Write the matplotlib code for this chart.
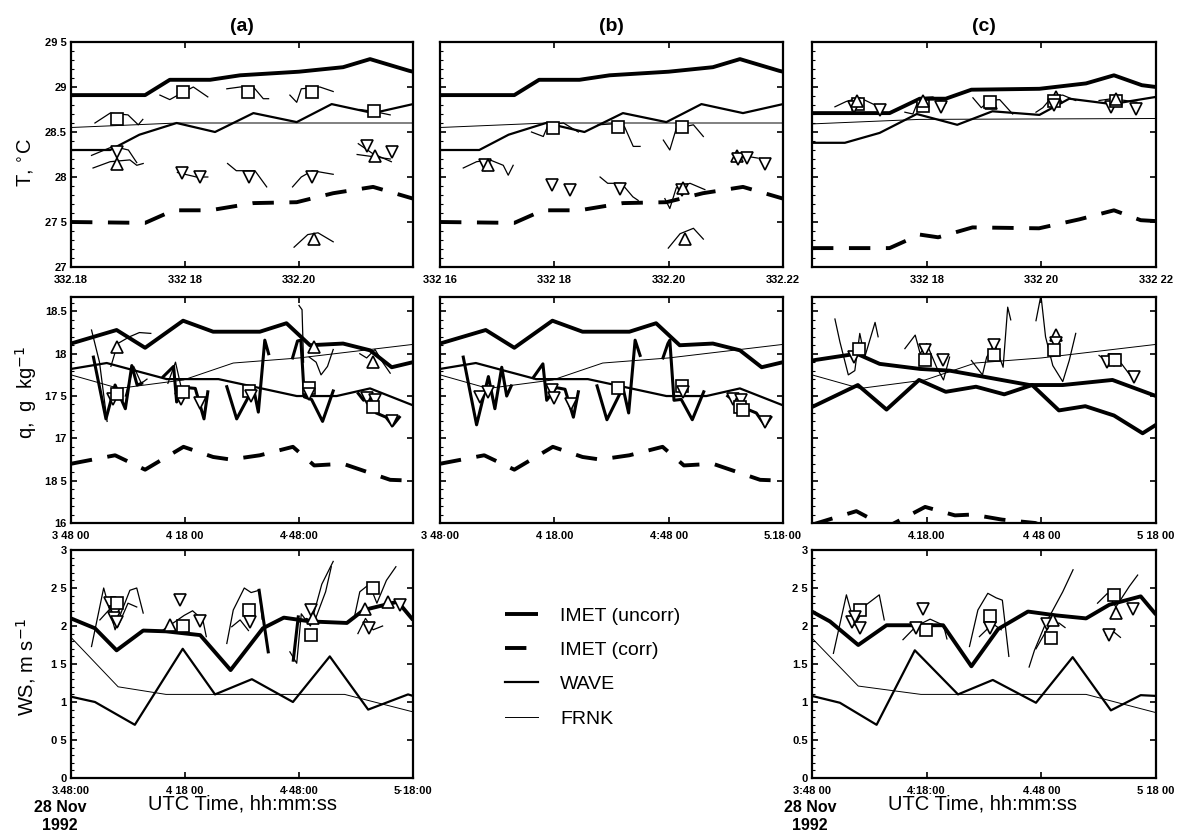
import matplotlib.pyplot as plt
from matplotlib.lines import Line2D
from matplotlib.ticker import MultipleLocator

plt.rcParams['font.family'] = ['Liberation Sans', 'DejaVu Sans']

# x axis: minutes after 03:48:00 UTC, 28 Nov 1992 (332.16 - 332.22 day of year)
X_TICKS = [0, 30, 60, 90]

# ---------------- temperature, panels (a) and (b)
T_IMET_T = [0, 19.5, 26, 36.6, 44.5, 60, 71.6, 78.7, 89, 90]
T_IMET_UNC = [28.91, 28.91, 29.08, 29.08, 29.13, 29.17, 29.22, 29.31, 29.18, 29.17]
T_COR_T = [0, 19.5, 27, 36.6, 48, 59.4, 69, 79.5, 90]
T_IMET_COR = [27.5, 27.49, 27.63, 27.63, 27.71, 27.72, 27.82, 27.89, 27.76]
T_WAVE_T = [0, 10.3, 18, 27.8, 37.9, 48, 59.4, 68.6, 79.5, 90]
T_WAVE = [28.3, 28.3, 28.47, 28.6, 28.5, 28.71, 28.61, 28.81, 28.71, 28.81]
T_FRNK_T = [0, 28, 90]
T_FRNK = [28.55, 28.6, 28.6]

# temperature, panel (c)
TC_IMET_T = [0, 20.3, 28.2, 35, 41.7, 59.5, 71.7, 79, 86.3, 90]
TC_IMET_UNC = [28.71, 28.71, 28.87, 28.87, 28.97, 28.98, 29.04, 29.13, 29.02, 29.0]
TC_COR_T = [0, 20.3, 28.2, 33, 42, 59.4, 70, 79, 86, 90]
TC_IMET_COR = [27.21, 27.21, 27.36, 27.33, 27.44, 27.43, 27.53, 27.63, 27.52, 27.51]
TC_WAVE_T = [0, 8.6, 17.7, 27.4, 38, 47.2, 59.5, 67.3, 78.5, 90]
TC_WAVE = [28.38, 28.38, 28.49, 28.7, 28.58, 28.73, 28.69, 28.87, 28.81, 28.89]
TC_FRNK_T = [0, 28, 90]
TC_FRNK = [28.59, 28.64, 28.65]

# ---------------- humidity, panels (a) and (b)
Q_IMET_T = [0, 12, 19.5, 29.5, 37.4, 49.7, 56.7, 62.9, 71.6, 78.7, 84.4, 90]
Q_IMET_UNC = [18.12, 18.28, 18.07, 18.39, 18.26, 18.26, 18.36, 18.1, 18.12, 18.04, 17.84, 17.9]
Q_COR_T = [0, 11.6, 19.5, 29.6, 37.4, 42, 49.7, 58.4, 64, 71.6, 84, 90]
Q_IMET_COR = [16.7, 16.8, 16.63, 16.9, 16.78, 16.75, 16.8, 16.9, 16.68, 16.7, 16.51, 16.5]
Q_WAVE_T = [0, 9.4, 25.2, 38.8, 59.4, 69.9, 78.7, 90]
Q_WAVE = [17.82, 17.89, 17.7, 17.7, 17.5, 17.5, 17.59, 17.39]
Q_FRNK_T = [0, 12.6, 29.6, 42.7, 60, 90]
Q_FRNK = [17.75, 17.59, 17.69, 17.89, 17.95, 18.11]

# humidity, panel (c)
QC_IMET_T = [0, 12, 19.5, 28, 35, 42.9, 50.3, 57.6, 64.6, 71.5, 79, 86.5, 90]
QC_IMET_UNC = [17.37, 17.63, 17.34, 17.69, 17.55, 17.61, 17.52, 17.63, 17.33, 17.38, 17.27, 17.06, 17.16]
QC_IMET_COR = [15.98, 16.14, 15.95, 16.19, 16.09, 16.1, 16.04, 16.0, 15.9, 15.92, 15.75, 15.74]
QC_WAVE_T = [0, 11.7, 17.7, 28.3, 36, 44.7, 56.9, 65.6, 78.6, 90]
QC_WAVE = [17.92, 18.0, 17.88, 17.82, 17.8, 17.73, 17.63, 17.63, 17.69, 17.5]

# ---------------- wind speed, panel (a)
W_IMET_T = [0, 6.3, 12, 19, 25, 34, 42, 50.5, 56, 63, 72.6, 77, 86, 90]
W_IMET_UNC = [2.1, 1.97, 1.68, 1.94, 1.93, 1.88, 1.42, 1.97, 2.11, 2.06, 2.04, 2.21, 2.32, 2.08]
W_WAVE_T = [0, 6.3, 16.8, 29.4, 37.9, 47.6, 58.4, 68.1, 78.2, 88.7, 90]
W_WAVE = [1.07, 1.0, 0.7, 1.7, 1.1, 1.3, 1.0, 1.6, 0.9, 1.1, 1.08]
W_FRNK_T = [0, 12.4, 25, 72, 90]
W_FRNK = [1.85, 1.2, 1.1, 1.1, 0.87]

# wind speed, panel (c)
WC_IMET_T = [0, 4.7, 12.1, 19.5, 34.3, 41.7, 48.7, 56.5, 63.8, 71.7, 77.8, 86, 90]
WC_IMET_UNC = [2.19, 2.06, 1.75, 2.01, 2.01, 1.47, 1.96, 2.19, 2.14, 2.1, 2.28, 2.39, 2.15]
WC_WAVE_T = [0, 7.3, 16.9, 26.9, 38.2, 47.3, 58.6, 68.2, 78.2, 86, 90]
WC_WAVE = [1.08, 0.99, 0.7, 1.68, 1.1, 1.29, 0.99, 1.59, 0.89, 1.09, 1.08]
WC_FRNK_T = [0, 12.1, 28.5, 71.7, 90]
WC_FRNK = [1.84, 1.21, 1.1, 1.1, 0.86]

# ---------------- short ship/buoy records (thin traces) and their means (symbols)
T_A_TRACKS = [
    ([6.3, 10.3, 15, 17.7, 18.9], [28.6, 28.71, 28.69, 28.58, 28.64]),
    ([5.4, 11.1, 15.1, 17.3], [28.24, 28.34, 28.3, 28.16]),
    ([5.8, 10.3, 15.5, 17.3, 19], [28.1, 28.17, 28.19, 28.13, 28.15]),
    ([23.4, 26, 29, 32.2, 36], [28.91, 28.86, 28.93, 29.0, 28.89]),
    ([28, 30, 33, 36], [28.05, 28.03, 28.0, 28.0]),
    ([41, 44.5, 48, 50.6, 52], [28.98, 29.0, 29.0, 28.87, 28.87]),
    ([41.2, 43.5, 48.4, 51.5], [28.15, 28.07, 28.07, 27.89]),
    ([57.6, 59.4, 60.6, 65.5, 69], [28.91, 28.83, 28.98, 29.0, 28.95]),
    ([58.3, 60.6, 63.5, 69], [27.89, 28.0, 28.07, 28.03]),
    ([58.7, 62.3, 65, 69], [27.22, 27.36, 27.38, 27.28]),
    ([76, 79.5, 84], [28.75, 28.73, 28.69]),
    ([75.6, 79.4, 84.3], [28.37, 28.26, 28.17]),
    ([75.3, 84], [28.25, 28.2]),
]
T_A_MARKS = [('s', 12.1, 28.65), ('v', 12, 28.28), ('^', 12.2, 28.15), ('s', 29.6, 28.94),
             ('v', 29.1, 28.04), ('v', 34, 28.0), ('s', 46.7, 28.94), ('v', 46.8, 28.0),
             ('s', 63.3, 28.94), ('v', 63.5, 28.0), ('^', 63.9, 27.31), ('s', 79.7, 28.73),
             ('v', 77.8, 28.34), ('v', 84.4, 28.28), ('^', 80, 28.23)]

T_B_TRACKS = [
    ([6.1, 9.6, 13.1, 16.6, 17.9, 19.2], [28.1, 28.17, 28.19, 28.13, 28.02, 28.13]),
    ([24, 27.1, 28.4, 32.4, 36.3], [28.5, 28.45, 28.58, 28.6, 28.5]),
    ([41.5, 45.2, 48.4, 50.7, 52.5], [28.58, 28.59, 28.56, 28.34, 28.34]),
    ([58.6, 60.3, 62, 66.5, 69.1], [28.41, 28.3, 28.54, 28.58, 28.45]),
    ([42, 44, 47.6, 50.6, 52], [28.0, 27.93, 27.93, 27.78, 27.74]),
    ([59, 60.3, 62, 65.6, 69.5], [27.76, 27.65, 27.88, 27.93, 27.86]),
    ([59.9, 63, 66.5, 69.1], [27.21, 27.37, 27.43, 27.31]),
    ([76.7, 78.5, 80.5, 83.4], [28.25, 28.2, 28.23, 28.21]),
]
T_B_MARKS = [('v', 11.8, 28.13), ('^', 12.6, 28.13), ('s', 29.7, 28.54), ('s', 46.8, 28.56),
             ('s', 63.4, 28.56), ('v', 29.3, 27.91), ('v', 34.1, 27.86), ('v', 47.2, 27.87),
             ('v', 63.4, 27.86), ('^', 63.8, 27.88), ('^', 64.3, 27.31), ('^', 77.9, 28.23),
             ('v', 78.3, 28.2), ('v', 80.5, 28.21), ('v', 85.3, 28.15)]

T_C_TRACKS = [
    ([6, 9, 12.5, 16, 18.6], [28.78, 28.84, 28.88, 28.81, 28.78]),
    ([24.3, 26.4, 28.1, 31.6, 35.1], [28.72, 28.7, 28.88, 28.89, 28.82]),
    ([42.1, 44.3, 46.5, 49.1, 52.5], [28.88, 28.77, 28.85, 28.86, 28.7]),
    ([58.6, 60.4, 63, 65.6, 69], [28.72, 28.77, 28.9, 28.91, 28.85]),
    ([75.1, 78.5, 82, 85], [28.85, 28.87, 28.85, 28.83]),
]
T_C_MARKS = [('s', 12.1, 28.81), ('v', 10.9, 28.78), ('v', 17.7, 28.75), ('^', 11.9, 28.85),
             ('s', 29.1, 28.79), ('v', 33.8, 28.78), ('^', 29.1, 28.85), ('^', 46.9, 28.82),
             ('s', 46.5, 28.83), ('^', 63.8, 28.89), ('s', 63.4, 28.84), ('v', 63.4, 28.8),
             ('v', 78.2, 28.78), ('v', 84.7, 28.76), ('s', 79.5, 28.85), ('^', 79.5, 28.87)]

Q_A_THICK = [
    ([5.9, 9.2, 11.6, 14.3, 16, 17.4, 18.6], [17.96, 17.23, 17.63, 17.35, 17.86, 17.63, 17.65]),
    ([24.3, 27, 27.8, 30.4, 32.7, 35, 36], [17.73, 17.85, 17.43, 17.6, 17.59, 17.23, 17.55]),
    ([41, 43.6, 48, 49.3, 51, 52], [17.61, 17.23, 17.6, 17.31, 18.16, 18.0]),
    ([58.3, 59.6, 60.5, 61.4, 63.3, 66.2, 69], [17.95, 18.15, 18.16, 17.49, 17.46, 17.2, 17.56]),
    ([75.6, 77, 78.6, 80.3, 82.9, 84.6, 86.4], [17.53, 17.45, 17.5, 17.3, 17.25, 17.15, 17.25]),
]
Q_A_TRACKS = [
    ([5.4, 7.5, 9.5], [18.28, 17.9, 17.2]),
    ([10.5, 12.3, 15.4, 18, 21], [17.85, 18.12, 18.2, 18.25, 18.24]),
    ([14.3, 16.5, 18.5, 20], [17.5, 17.85, 17.65, 17.7]),
    ([25.5, 27.5, 29], [17.65, 17.9, 17.6]),
    ([60, 60.8, 61.2], [18.57, 18.52, 17.9]),
    ([62.7, 64.5, 65.8, 67.5, 69], [17.96, 17.9, 17.75, 17.85, 18.05]),
    ([76, 77.8, 80, 82, 84], [18.0, 17.95, 18.05, 17.9, 17.77]),
]
Q_A_MARKS = [('^', 12.2, 18.08), ('v', 11, 17.47), ('s', 12, 17.52), ('v', 29, 17.47),
             ('s', 29.6, 17.55), ('v', 34, 17.42), ('s', 46.8, 17.56), ('v', 47.3, 17.5),
             ('^', 64, 18.08), ('s', 62.7, 17.6), ('v', 62.7, 17.52), ('v', 77.8, 17.48),
             ('v', 79.9, 17.45), ('s', 79.5, 17.37), ('v', 84.6, 17.2), ('^', 79.5, 17.9)]

Q_B_THICK = [
    ([6.1, 9.6, 12.7, 14.4, 16.2, 17.5, 18.7], [17.96, 17.16, 17.73, 17.35, 17.84, 17.5, 17.62]),
    ([24.5, 27, 28, 30.5, 32.8, 35, 36.3], [17.72, 17.88, 17.45, 17.6, 17.58, 17.25, 17.55]),
    ([41.2, 43.8, 48, 49.5, 51.2, 52.5], [17.62, 17.22, 17.6, 17.3, 18.16, 17.98]),
    ([58.5, 59.8, 60.3, 61.4, 63.3, 66.2, 69.2], [17.95, 18.12, 18.16, 17.45, 17.46, 17.22, 17.55]),
    ([75.5, 77, 78.7, 80.3, 83, 85.3, 86.8], [17.5, 17.45, 17.5, 17.35, 17.3, 17.15, 17.25]),
]
Q_B_MARKS = [('v', 10.4, 17.49), ('v', 12.6, 17.55), ('v', 29.3, 17.57), ('v', 30, 17.48),
             ('v', 34.5, 17.41), ('s', 46.8, 17.59), ('s', 63.4, 17.62), ('v', 63.8, 17.55),
             ('v', 77, 17.47), ('v', 79, 17.45), ('s', 78.7, 17.37), ('s', 79.5, 17.33),
             ('v', 85.3, 17.19)]

Q_C_TRACKS = [
    ([6, 7.3, 9.5, 11.2, 12.5, 13.8, 16.5, 17.3], [18.41, 18.14, 17.75, 17.8, 18.24, 17.96, 18.37, 18.2]),
    ([24.3, 27, 28.3, 30, 32.6, 34.4, 36], [18.06, 18.22, 18.0, 18.12, 17.84, 17.69, 17.96]),
    ([41.7, 44.6, 45.7, 47.8, 50, 51.2, 52], [17.92, 17.75, 17.96, 18.12, 17.84, 18.55, 18.4]),
    ([58.6, 59.9, 61.1, 63, 65.6, 67.3, 69], [18.39, 18.69, 18.2, 17.86, 17.67, 17.92, 18.24]),
    ([75.1, 76.9, 79.4, 81, 83.5], [17.98, 17.92, 17.94, 17.88, 17.73]),
]
Q_C_MARKS = [('v', 11, 17.96), ('s', 12.2, 18.06), ('v', 29.6, 18.04), ('s', 29.6, 17.92),
             ('v', 34.4, 17.92), ('v', 47.6, 18.1), ('s', 47.6, 17.98), ('^', 63.8, 18.22),
             ('v', 63.8, 18.13), ('s', 63.4, 18.04), ('v', 77.3, 17.9), ('v', 79, 17.93),
             ('s', 79.4, 17.92), ('v', 84.3, 17.73)]

W_A_TRACKS = [
    ([5.4, 8.6, 11.6, 13.3, 15.5, 17.3, 19], [1.73, 2.5, 1.95, 2.19, 2.47, 2.5, 2.17]),
    ([7.6, 10.7, 12.3, 15, 17.3], [2.08, 2.25, 1.99, 2.3, 2.25]),
    ([24.3, 29.8, 32, 34.7, 35.6], [1.95, 2.14, 2.2, 2.08, 1.86]),
    ([41, 42.7, 45.6, 47.4, 49.5, 50.3], [1.77, 2.21, 2.5, 2.44, 2.47, 2.09]),
    ([42.3, 44.5, 46.7], [1.99, 2.08, 1.94]),
    ([57.6, 59.4, 60.6, 63, 66, 69], [1.66, 1.51, 2.16, 2.0, 2.55, 2.85]),
    ([60, 62, 64, 67, 68.5], [2.05, 2.1, 2.05, 2.45, 2.78]),
    ([74.5, 76, 78.5, 80.5, 83, 85.5], [2.1, 2.45, 2.55, 2.3, 2.6, 2.78]),
    ([75.5, 77.5, 79.5, 82], [1.9, 2.1, 1.95, 2.0]),
]
W_A_THICK = [
    ([49.5, 51.9], [2.47, 1.66]),
    ([58.5, 59.8], [1.55, 2.12]),
]
W_A_MARKS = [('v', 10.3, 2.3), ('v', 11.6, 2.19), ('s', 12.2, 2.3), ('v', 11.2, 2.1),
             ('v', 12.2, 2.05), ('v', 28.7, 2.34), ('^', 26, 2.01), ('s', 29.4, 2.0),
             ('v', 34, 2.06), ('s', 46.8, 2.21), ('v', 47, 2.05), ('v', 63.2, 2.21),
             ('^', 63.6, 2.1), ('s', 63.2, 1.88), ('s', 79.6, 2.5), ('^', 77.4, 2.23),
             ('v', 78.3, 1.97), ('^', 83.5, 2.32), ('v', 86.5, 2.28)]

W_C_TRACKS = [
    ([5.6, 9, 11.2, 14.2, 17.6, 18.9], [1.64, 2.41, 2.01, 2.28, 2.41, 2.08]),
    ([23.8, 27.3, 30.9, 34.4, 35.3], [1.82, 2.0, 2.09, 2.01, 1.83]),
    ([41.2, 43.4, 46, 48.2, 49.8, 51.5], [1.73, 2.21, 2.43, 2.37, 2.34, 1.6]),
    ([43.8, 47.3, 49.5], [1.86, 2.03, 1.95]),
    ([56.8, 58.2, 61.1, 65.6, 68.3], [1.46, 1.68, 2.03, 2.45, 2.74]),
    ([58.6, 62, 64.6, 66.2], [1.7, 2.0, 2.04, 1.98]),
    ([74.7, 77.3, 79.5, 83, 85.2], [2.3, 2.43, 2.25, 2.52, 2.67]),
    ([76.9, 79, 80.7], [1.88, 1.92, 1.85]),
]
W_C_MARKS = [('v', 10.4, 2.05), ('v', 12.5, 1.97), ('s', 12.5, 2.21), ('v', 11.2, 2.12),
             ('v', 29, 2.23), ('s', 29.7, 1.95), ('v', 27.3, 1.98), ('s', 46.5, 2.13),
             ('v', 46.5, 1.97), ('s', 62.4, 1.84), ('v', 61.5, 2.02), ('^', 63, 2.08),
             ('s', 79, 2.41), ('^', 79.5, 2.17), ('v', 83.9, 2.23), ('v', 77.7, 1.88)]

# ---------------- tick labels as printed
TOP_XL = [['332.18', '332 18', '332.20', ''], ['332 16', '332 18', '332.20', '332.22'],
          ['', '332 18', '332 20', '332 22']]
MID_XL = [['3 48 00', '4 18 00', '4·48:00', ''], ['3 48·00', '4 18.00', '4:48 00', '5.18·00'],
          ['', '4.18.00', '4 48 00', '5 18 00']]
BOT_XL = [['3.48:00', '4 18 00', '4·48:00', '5·18:00'], None,
          ['3:48 00', '4:18:00', '4.48 00', '5 18 00']]
T_YT = [27, 27.5, 28, 28.5, 29, 29.5]
T_YL = ['27', '27 5', '28', '28.5', '29', '29 5']
Q_YT = [16, 16.5, 17, 17.5, 18, 18.5]
Q_YL = ['16', '18 5', '17', '17 5', '18', '18.5']
W_YT = [0, 0.5, 1, 1.5, 2, 2.5, 3]
W_YL_A = ['0', '0 5', '1', '1 5', '2', '2 5', '3']
W_YL_C = ['0', '0.5', '1', '1.5', '2', '2 5', '3']

UNC = dict(color='black', lw=2.8, solid_capstyle='butt')
COR = dict(color='black', lw=2.8, dashes=(5.5, 4))
WAV = dict(color='black', lw=1.6)
FRN = dict(color='black', lw=0.7)

W, H = 1177, 838
fig = plt.figure(figsize=(W / 100, H / 100), dpi=100)
COLS = [(71, 413), (440, 783), (812, 1156)]
ROWS = [(42, 267), (297, 523), (550, 778)]


def make_ax(col, row):
    x0, x1 = COLS[col]
    y0, y1 = ROWS[row]
    ax = fig.add_axes([x0 / W, 1 - y1 / H, (x1 - x0) / W, (y1 - y0) / H])
    for s in ax.spines.values():
        s.set_linewidth(1.6)
    ax.set_xlim(0, 90)
    ax.set_xticks(X_TICKS)
    ax.tick_params(which='major', direction='in', length=4, width=1.2, top=True, right=True,
                   labelsize=8, pad=3)
    ax.tick_params(axis='x', which='major', pad=6)
    ax.tick_params(which='minor', direction='in', length=2, width=0.8, left=True, right=False)
    ax.yaxis.set_minor_locator(MultipleLocator(0.1))
    return ax


def style_labels(ax):
    for lab in ax.get_xticklabels() + ax.get_yticklabels():
        lab.set_fontweight('bold')


def draw_tracks(ax, tracks, marks, thick=None):
    for tt, vv in tracks:
        ax.plot(tt, vv, color='black', lw=0.9)
    if thick:
        for tt, vv in thick:
            ax.plot(tt, vv, color='black', lw=2.2)
    for m, t, v in marks:
        ax.plot(t, v, marker=m, ms=9 if m != 's' else 8, mfc='white', mec='black',
                mew=1.2, ls='none')


# top row: temperature
top_data = [
    (T_IMET_T, T_IMET_UNC, T_COR_T, T_IMET_COR, T_WAVE_T, T_WAVE, T_FRNK_T, T_FRNK, T_A_TRACKS, T_A_MARKS),
    (T_IMET_T, T_IMET_UNC, T_COR_T, T_IMET_COR, T_WAVE_T, T_WAVE, T_FRNK_T, T_FRNK, T_B_TRACKS, T_B_MARKS),
    (TC_IMET_T, TC_IMET_UNC, TC_COR_T, TC_IMET_COR, TC_WAVE_T, TC_WAVE, TC_FRNK_T, TC_FRNK, T_C_TRACKS, T_C_MARKS),
]
for c, (it, iu, ct, ic, wt, wv, ft, fv, trk, mk) in enumerate(top_data):
    ax = make_ax(c, 0)
    ax.plot(ft, fv, **FRN)
    ax.plot(wt, wv, **WAV)
    ax.plot(ct, ic, **COR)
    ax.plot(it, iu, **UNC)
    draw_tracks(ax, trk, mk)
    ax.set_ylim(27, 29.5)
    ax.set_yticks(T_YT)
    ax.set_yticklabels(T_YL if c == 0 else [])
    ax.set_xticklabels(TOP_XL[c])
    style_labels(ax)
    ax.set_title('(' + 'abc'[c] + ')', fontsize=14, fontweight='bold', pad=8)

# middle row: specific humidity
mid_data = [
    (Q_IMET_T, Q_IMET_UNC, Q_IMET_COR, Q_WAVE_T, Q_WAVE, Q_A_TRACKS, Q_A_MARKS, Q_A_THICK),
    (Q_IMET_T, Q_IMET_UNC, Q_IMET_COR, Q_WAVE_T, Q_WAVE, [], Q_B_MARKS, Q_B_THICK),
    (QC_IMET_T, QC_IMET_UNC, QC_IMET_COR, QC_WAVE_T, QC_WAVE, Q_C_TRACKS, Q_C_MARKS, None),
]
for c, (it, iu, ic, wt, wv, trk, mk, thk) in enumerate(mid_data):
    ax = make_ax(c, 1)
    ax.plot(Q_FRNK_T, Q_FRNK, **FRN)
    ax.plot(wt, wv, **(UNC if c == 2 else WAV))
    ax.plot(Q_COR_T, ic, **COR)
    ax.plot(it, iu, **UNC)
    draw_tracks(ax, trk, mk, thk)
    ax.set_ylim(16, 18.67)
    ax.set_yticks(Q_YT)
    ax.set_yticklabels(Q_YL if c == 0 else [])
    ax.set_xticklabels(MID_XL[c])
    style_labels(ax)

# bottom row: wind speed
bot_data = {
    0: (W_IMET_T, W_IMET_UNC, W_WAVE_T, W_WAVE, W_FRNK_T, W_FRNK, W_A_TRACKS, W_A_MARKS, W_A_THICK, W_YL_A),
    2: (WC_IMET_T, WC_IMET_UNC, WC_WAVE_T, WC_WAVE, WC_FRNK_T, WC_FRNK, W_C_TRACKS, W_C_MARKS, None, W_YL_C),
}
for c, (it, iu, wt, wv, ft, fv, trk, mk, thk, yl) in bot_data.items():
    ax = make_ax(c, 2)
    ax.plot(ft, fv, **FRN)
    ax.plot(wt, wv, **WAV)
    ax.plot(it, iu, **UNC)
    draw_tracks(ax, trk, mk, thk)
    ax.set_ylim(0, 3)
    ax.set_yticks(W_YT)
    ax.set_yticklabels(yl)
    ax.set_xticklabels(BOT_XL[c])
    style_labels(ax)

# y-axis titles
fig.text(26 / W, 1 - 163 / H, 'T, $^{\\circ}$C', rotation=90, ha='center', va='center', fontsize=14.5)
fig.text(26 / W, 1 - 392 / H, 'q,  g  kg$^{-1}$', rotation=90, ha='center', va='center', fontsize=14.5)
fig.text(26 / W, 1 - 667 / H, 'WS, m s$^{-1}$', rotation=90, ha='center', va='center', fontsize=14.5)

# date and x-axis title under (a) and (c)
for xd, xu in [(60, 242), (810, 983)]:
    fig.text(xd / W, 1 - 816 / H, '28 Nov\n1992', ha='center', va='center', fontsize=11.5,
             fontweight='bold', linespacing=1.25)
    fig.text(xu / W, 1 - 804 / H, 'UTC Time, hh:mm:ss', ha='center', va='center', fontsize=14.5)

# legend in the empty lower-middle slot
handles = [Line2D([], [], **UNC), Line2D([], [], **COR), Line2D([], [], **WAV), Line2D([], [], **FRN)]
labels = ['IMET (uncorr)', 'IMET (corr)', 'WAVE', 'FRNK']
fig.legend(handles, labels, loc='upper left', bbox_to_anchor=(505 / W, 1 - 607 / H),
           frameon=False, fontsize=14, handlelength=1.7, handletextpad=1.13,
           labelspacing=0.86, borderpad=0, borderaxespad=0)

fig.savefig('out.png', dpi=100)
